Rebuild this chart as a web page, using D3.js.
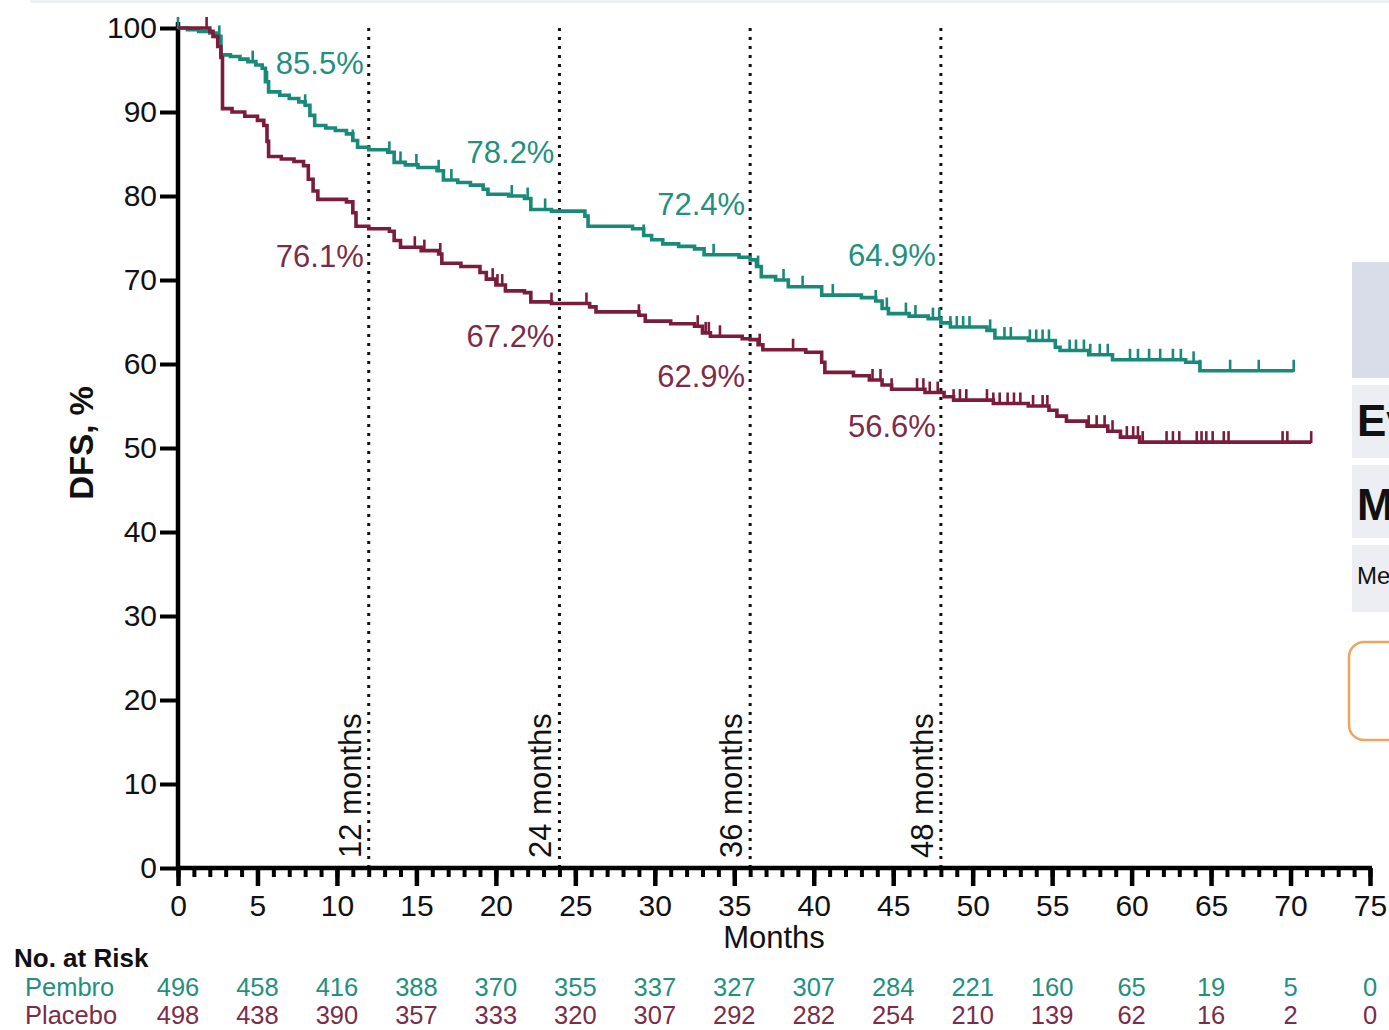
<!DOCTYPE html>
<html>
<head>
<meta charset="utf-8">
<script src="https://cdn.jsdelivr.net/npm/d3@7"></script>
<style>
  html, body { margin: 0; padding: 0; background: #fff; }
  svg { display: block; font-family: "Liberation Sans", Arial, sans-serif; }
</style>
</head>
<body>
<svg id="chart" width="1389" height="1030"></svg>
<script>
// Kaplan-Meier step points: [month, DFS %] after each drop
const pembroSteps = [
  [0,100],[0.6,99.8],[1.3,99.6],[2.0,99.4],[2.4,99.0],[2.7,96.8],[3.3,96.6],[3.9,96.3],
  [4.4,96.0],[4.9,95.6],[5.3,95.2],[5.5,93.6],[5.7,92.4],[6.4,92.0],[7.0,91.6],[7.6,91.2],
  [8.0,90.8],[8.3,89.6],[8.6,88.4],[9.3,88.1],[9.9,87.8],[10.6,87.4],[11.0,86.6],[11.3,85.8],
  [12.0,85.5],[13.2,85.2],[13.6,84.0],[14.3,83.7],[15.1,83.4],[16.3,83.0],[16.7,81.9],[17.6,81.6],
  [18.4,81.3],[19.2,80.8],[19.5,80.2],[20.8,80.0],[21.8,79.7],[22.2,78.4],[23.5,78.2],[25.6,77.6],
  [25.8,76.4],[28.6,76.1],[29.3,75.3],[29.8,74.8],[30.5,74.3],[31.5,74.0],[32.5,73.7],[33.1,73.0],
  [35.3,72.7],[36.0,72.4],[36.4,71.6],[36.7,70.4],[37.6,70.0],[38.4,69.2],[40.5,68.2],[43.0,67.9],
  [43.9,67.5],[44.3,66.6],[44.7,66.0],[46.0,65.7],[47.2,65.4],[48.0,64.9],[48.6,64.4],[50.9,64.0],
  [51.4,63.1],[53.5,62.8],[55.2,62.0],[55.5,61.6],[57.3,61.1],[58.8,60.5],[63.4,60.2],[64.3,59.2]
];
const pembroEnd = 70.2;
const pembroCensor = [0, 2.6, 4.7, 5.6, 8.0, 11.0, 13.3, 14.0, 15.0, 16.4, 17.2, 21.0, 22.0, 23.1,
  29.3, 33.7, 36.5, 38.1, 39.3, 41.2, 43.9, 44.6, 45.8, 46.4, 47.5, 47.9, 48.6, 49.0, 49.4, 49.8,
  51.1, 52.0, 52.4, 53.6, 54.0, 54.4, 54.8, 56.1, 56.5, 57.0, 57.4, 58.0, 58.5, 59.9, 60.4, 61.1,
  61.8, 62.6, 63.1, 63.9, 64.3, 66.2, 68.0, 70.2];

const placeboSteps = [
  [0,100],[2.0,99.6],[2.2,99.0],[2.5,97.8],[2.7,96.5],[2.8,90.4],[3.4,90.0],[4.2,89.5],
  [5.0,89.0],[5.4,88.4],[5.6,86.5],[5.7,84.7],[6.5,84.4],[7.3,84.1],[7.9,83.6],[8.2,82.0],
  [8.5,80.6],[8.8,79.6],[10.6,79.3],[11.0,78.0],[11.2,76.4],[12.0,76.1],[13.3,75.8],[13.6,74.7],
  [14.0,73.9],[15.3,73.5],[16.4,73.1],[16.6,72.0],[17.8,71.6],[19.0,70.9],[19.4,70.1],[20.0,69.4],
  [20.6,68.7],[21.8,68.5],[22.2,67.4],[23.5,67.2],[25.9,66.8],[26.3,66.2],[29.0,65.8],[29.4,65.1],
  [31.0,64.8],[32.5,64.5],[33.0,63.7],[33.5,63.3],[35.5,63.0],[36.0,62.9],[36.5,62.3],[36.8,61.7],
  [39.5,61.4],[40.5,60.2],[40.7,59.0],[42.5,58.6],[43.5,58.1],[44.3,57.5],[44.9,57.0],[47.0,56.6],
  [48.2,56.1],[48.8,55.7],[51.3,55.3],[53.5,55.0],[54.8,54.5],[55.3,53.8],[55.9,53.2],[57.2,52.6],
  [58.5,52.0],[59.3,51.3],[60.5,50.7]
];
const placeboEnd = 71.3;
const placeboCensor = [1.8, 14.9, 15.5, 16.5, 19.8, 20.1, 20.4, 23.5, 25.7, 29.0, 32.7, 33.2, 33.4,
  34.1, 36.6, 38.7, 43.7, 44.2, 44.9, 46.5, 46.9, 47.3, 47.8, 48.8, 49.2, 49.6, 50.9, 51.3, 51.7,
  52.2, 52.6, 53.0, 53.8, 54.4, 54.7, 57.3, 57.8, 58.3, 58.8, 59.7, 60.1, 60.4, 60.7, 62.2, 62.6,
  63.0, 64.1, 64.4, 64.7, 65.1, 65.8, 66.1, 69.5, 69.8, 71.3];

// Landmark estimates
const landmarkMonths = [12, 24, 36, 48];
const pembroLandmark = [85.5, 78.2, 72.4, 64.9];
const placeboLandmark = [76.1, 67.2, 62.9, 56.6];

// Axis ticks
const yTicks = [0, 10, 20, 30, 40, 50, 60, 70, 80, 90, 100];
const xTicks = [0, 5, 10, 15, 20, 25, 30, 35, 40, 45, 50, 55, 60, 65, 70, 75];

// Number at risk
const riskMonths = [0, 5, 10, 15, 20, 25, 30, 35, 40, 45, 50, 55, 60, 65, 70, 75];
const pembroRisk = [496, 458, 416, 388, 370, 355, 337, 327, 307, 284, 221, 160, 65, 19, 5, 0];
const placeboRisk = [498, 438, 390, 357, 333, 320, 307, 292, 282, 254, 210, 139, 62, 16, 2, 0];

const teal = "#188a79", maroon = "#7c1c3b";
const tealText = "#23907f", maroonText = "#7a2c4a";

const svg = d3.select("#chart");
const x = d3.scaleLinear().domain([0, 75]).range([178, 1370]);
const y = d3.scaleLinear().domain([0, 100]).range([868, 28]);

// faint frame line along the top
svg.append("line").attr("x1", 30).attr("x2", 1389).attr("y1", 1.5).attr("y2", 1.5)
  .attr("stroke", "#e4ecef").attr("stroke-width", 2);

// landmark dotted lines
svg.append("g").selectAll("line").data(landmarkMonths).join("line")
  .attr("x1", d => x(d)).attr("x2", d => x(d))
  .attr("y1", y(0)).attr("y2", 22)
  .attr("stroke", "#111").attr("stroke-width", 3).attr("stroke-dasharray", "3 6");

svg.append("g").selectAll("text").data(landmarkMonths).join("text")
  .attr("transform", d => `translate(${x(d) - 8},${858}) rotate(-90)`)
  .attr("font-size", 31).attr("fill", "#111")
  .text(d => `${d} months`);

// axes
const yAxis = svg.append("g").attr("transform", `translate(${x(0)},0)`)
  .call(d3.axisLeft(y).tickValues(yTicks).tickSize(18).tickSizeOuter(0).tickPadding(3));
yAxis.select(".domain").remove();
yAxis.selectAll(".tick line").attr("stroke", "#000").attr("stroke-width", 4);
yAxis.selectAll(".tick text").attr("font-size", 30).attr("fill", "#111")
  .attr("font-family", "Liberation Sans, Arial, sans-serif");
svg.append("line").attr("x1", x(0)).attr("x2", x(0)).attr("y1", 22).attr("y2", y(0) + 2)
  .attr("stroke", "#000").attr("stroke-width", 4.5);

const xMinor = svg.append("g").attr("transform", `translate(0,${y(0)})`)
  .call(d3.axisBottom(x).tickValues(d3.range(0, 76)).tickSize(9).tickFormat(""));
xMinor.select(".domain").remove();
xMinor.selectAll(".tick line").attr("stroke", "#000").attr("stroke-width", 4);

const xAxis = svg.append("g").attr("transform", `translate(0,${y(0)})`)
  .call(d3.axisBottom(x).tickValues(xTicks).tickSize(18).tickSizeOuter(0).tickPadding(9));
xAxis.select(".domain").remove();
xAxis.selectAll(".tick line").attr("stroke", "#000").attr("stroke-width", 4.5);
xAxis.selectAll(".tick text").attr("font-size", 30).attr("fill", "#111")
  .attr("font-family", "Liberation Sans, Arial, sans-serif");
svg.append("line").attr("x1", x(0) - 2).attr("x2", x(75) + 2).attr("y1", y(0)).attr("y2", y(0))
  .attr("stroke", "#000").attr("stroke-width", 4.5);

// axis titles
svg.append("text").attr("x", x(37.5)).attr("y", 948).attr("text-anchor", "middle")
  .attr("font-size", 31).attr("fill", "#111").text("Months");
svg.append("text").attr("transform", `translate(93,443) rotate(-90)`)
  .attr("text-anchor", "middle").attr("font-size", 33).attr("font-weight", "bold")
  .attr("fill", "#111").text("DFS, %");

// survival curves
function survAt(steps, t) {
  let v = steps[0][1];
  for (const [st, sv] of steps) { if (st <= t) v = sv; }
  return v;
}
const line = d3.line().x(d => x(d[0])).y(d => y(d[1])).curve(d3.curveStepAfter);

function drawArm(steps, end, censor, color) {
  const pts = steps.concat([[end, steps[steps.length - 1][1]]]);
  svg.append("path").datum(pts).attr("d", line)
    .attr("fill", "none").attr("stroke", color).attr("stroke-width", 3.6)
    .attr("stroke-linejoin", "miter");
  svg.append("g").selectAll("line").data(censor).join("line")
    .attr("x1", d => x(d)).attr("x2", d => x(d))
    .attr("y1", d => y(survAt(steps, d)) + 1).attr("y2", d => y(survAt(steps, d)) - 11)
    .attr("stroke", color).attr("stroke-width", 2.6);
}
drawArm(pembroSteps, pembroEnd, pembroCensor, teal);
drawArm(placeboSteps, placeboEnd, placeboCensor, maroon);

// landmark value labels
const pembroLabelY = [74, 163, 215, 266];
const placeboLabelY = [267, 347, 387, 437];
svg.append("g").selectAll("text").data(landmarkMonths).join("text")
  .attr("x", d => x(d) - 5).attr("y", (d, i) => pembroLabelY[i])
  .attr("text-anchor", "end").attr("font-size", 31).attr("fill", tealText)
  .text((d, i) => `${pembroLandmark[i].toFixed(1)}%`);
svg.append("g").selectAll("text").data(landmarkMonths).join("text")
  .attr("x", d => x(d) - 5).attr("y", (d, i) => placeboLabelY[i])
  .attr("text-anchor", "end").attr("font-size", 31).attr("fill", maroonText)
  .text((d, i) => `${placeboLandmark[i].toFixed(1)}%`);

// number at risk table
svg.append("text").attr("x", 14).attr("y", 967).attr("font-size", 26)
  .attr("font-weight", "bold").attr("fill", "#111").text("No. at Risk");
const riskRows = [
  { label: "Pembro", values: pembroRisk, color: tealText, base: 996 },
  { label: "Placebo", values: placeboRisk, color: maroonText, base: 1024 }
];
riskRows.forEach(r => {
  svg.append("text").attr("x", 25).attr("y", r.base).attr("font-size", 25.5)
    .attr("fill", r.color).text(r.label);
  svg.append("g").selectAll("text").data(riskMonths).join("text")
    .attr("x", d => x(d)).attr("y", r.base).attr("text-anchor", "middle")
    .attr("font-size", 25.5).attr("fill", r.color).text((d, i) => r.values[i]);
});

// summary panel at the right edge
const panel = svg.append("g");
panel.append("rect").attr("x", 1352).attr("y", 262).attr("width", 60).attr("height", 116)
  .attr("fill", "#d9dce9");
const rows = [
  { y: 385, h: 73, text: "Events", size: 44, weight: "bold", base: 436 },
  { y: 465, h: 73, text: "Median", size: 44, weight: "bold", base: 520 },
  { y: 545, h: 67, text: "Median follow-up", size: 24, weight: "normal", base: 584 }
];
panel.selectAll("rect.row").data(rows).join("rect").attr("class", "row")
  .attr("x", 1352).attr("y", d => d.y).attr("width", 60).attr("height", d => d.h)
  .attr("fill", "#eceef3");
panel.selectAll("text").data(rows).join("text")
  .attr("x", 1357).attr("y", d => d.base).attr("font-size", d => d.size)
  .attr("font-weight", d => d.weight).attr("fill", "#111").text(d => d.text);
panel.append("rect").attr("x", 1349).attr("y", 642).attr("width", 120).attr("height", 98)
  .attr("rx", 15).attr("fill", "none").attr("stroke", "#eea45c").attr("stroke-width", 2.5);
</script>
</body>
</html>
